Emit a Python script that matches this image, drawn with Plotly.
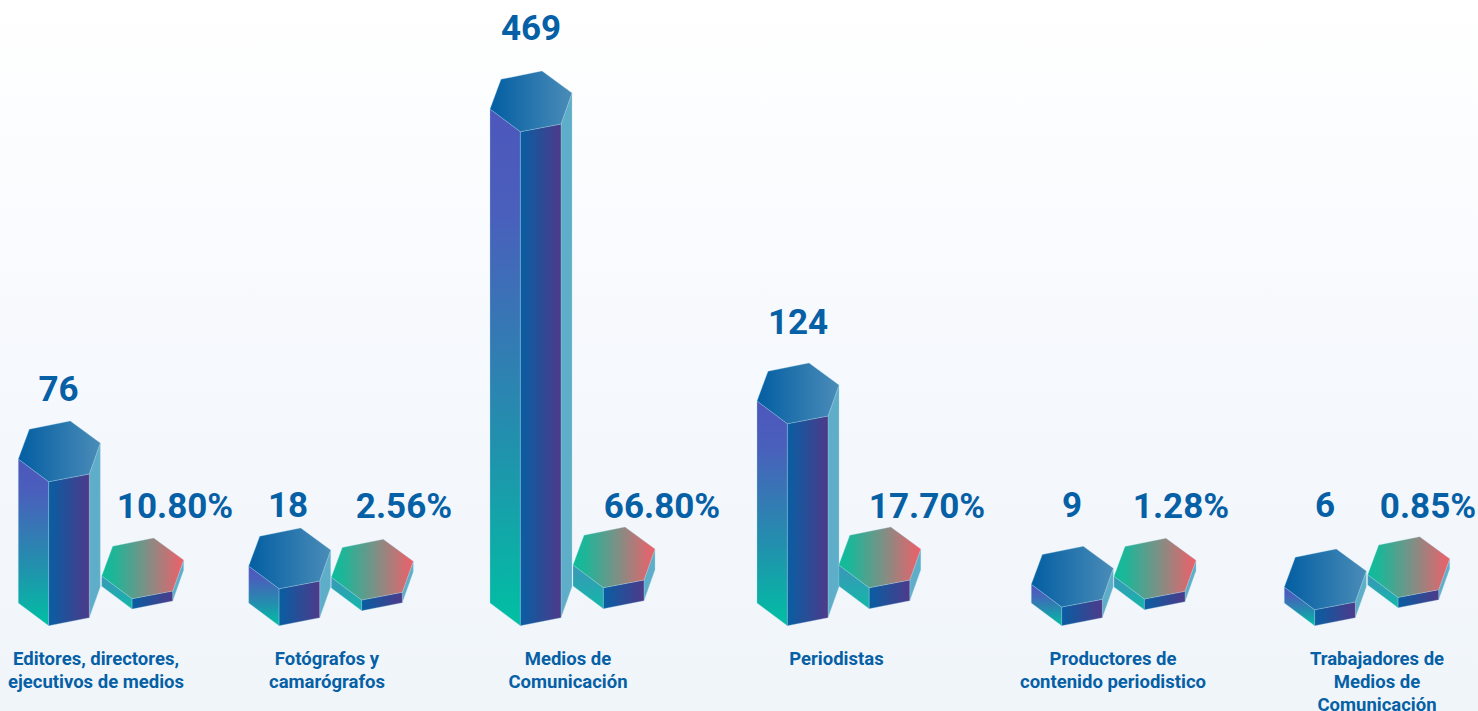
import plotly.graph_objects as go

# ---- data ----
categories = [
    ["Editores, directores,", "ejecutivos de medios"],
    ["Fotógrafos y", "camarógrafos"],
    ["Medios de", "Comunicación"],
    ["Periodistas"],
    ["Productores de", "contenido periodistico"],
    ["Trabajadores de", "Medios de", "Comunicación"],
]
counts = [76, 18, 469, 124, 9, 6]
percents = [10.80, 2.56, 66.80, 17.70, 1.28, 0.85]
# heights at which the infographic draws each prism (axis units = pixels)
count_heights = [144, 37, 494, 202, 18.7, 16]
percent_heights = [10.3, 10.7, 21, 21, 10.7, 10.3]

# ---- layout of the groups ----
W, H = 1478, 711
BASE = 625.7
count_left = [18.3, 248.7, 490, 757, 1031.3, 1284.3]
pct_left = [101.7, 331.3, 573, 838.8, 1114, 1367.7]
pct_base = [609, 610.7, 608.7, 608.7, 609.7, 607.7]
label_x = [96, 327, 568, 836.5, 1113, 1377]
count_x = [58.5, 288, 531, 798, 1072, 1325]
count_y = [392, 508.5, 31.5, 325, 508.5, 508.5]
pct_x = [175, 404, 662, 927, 1181, 1428]
PCT_Y = 509.5
LABEL_Y = 660
LINE_STEP = 23

HEX = [(0, 0), (11, -29.7), (52, -38), (82, -16), (71, 15), (30.4, 22.7)]

BLUE_TEXT = "#0660a5"
EDGE = "rgba(170,215,230,0.6)"

top_blue = [[0, "#035ea2"], [1, "#4a8cb8"]]
top_warm = [[0, "#0bbd9b"], [0.15, "#1fb598"], [0.55, "#7f8f85"], [1, "#f05f69"]]
front_cs = [[0, "#085ea2"], [1, "#4d3a8a"]]
side_tall = [[0, "#00c0a3"], [0.35, "#2191ad"], [0.8, "#4a5fbc"], [1, "#4d57bc"]]
side_flat = [[0, "#12b8a8"], [1, "#3b96b8"]]
RIGHT = "#5faec9"

fig = go.Figure()


def face(xs, ys, kind=None, cs=None, start=None, stop=None, solid=None, edge=True):
    kw = dict(
        x=list(xs) + [xs[0]], y=list(ys) + [ys[0]], mode="lines", fill="toself",
        line=dict(color=EDGE if edge else "rgba(0,0,0,0)", width=0.5),
        hoverinfo="skip", showlegend=False,
    )
    if solid:
        kw["fillcolor"] = solid
    else:
        kw["fillgradient"] = dict(type=kind, colorscale=cs, start=start, stop=stop)
    fig.add_trace(go.Scatter(**kw))


# page background
face([0, W, W, 0], [0, 0, H, H], "vertical",
     [[0, "#ffffff"], [0.5, "#f6f9fd"], [1, "#f0f5fa"]], 0, H, edge=False)


def prism(left, base, height, top_cs, side_cs):
    fy = base - height            # front vertex of the top face
    ly = fy - HEX[5][1]
    px = [left + a for a, _ in HEX]
    py = [ly + b for _, b in HEX]
    fx = px[5]
    rise_left = py[5] - py[0]
    rise_right = py[4] - py[3]
    # left side
    face([px[0], fx, fx, px[0]], [py[0], py[5], base, base - rise_left],
         "vertical", side_cs, base, py[0])
    # right side
    face([px[4], px[3], px[3], px[4]],
         [py[4], py[3], base - 8 - rise_right, base - 8], solid=RIGHT)
    # front
    face([fx, px[4], px[4], fx], [py[5], py[4], base - 8, base],
         "horizontal", front_cs, fx, px[4])
    # top
    face(px, py, "horizontal", top_cs, px[0], px[3])


for i in range(len(counts)):
    prism(count_left[i], BASE, count_heights[i], top_blue, side_tall)
    prism(pct_left[i], pct_base[i], percent_heights[i], top_warm, side_flat)

# value labels
fig.add_trace(go.Scatter(
    x=count_x, y=count_y, mode="text", text=[str(v) for v in counts],
    textposition="middle center", hoverinfo="skip", showlegend=False,
    textfont=dict(family="Roboto", size=35, color=BLUE_TEXT, weight=700),
))
fig.add_trace(go.Scatter(
    x=pct_x, y=[PCT_Y] * len(pct_x), mode="text",
    text=[f"{p:.2f}%" for p in percents],
    textposition="middle center", hoverinfo="skip", showlegend=False,
    textfont=dict(family="Roboto", size=35, color=BLUE_TEXT, weight=700),
))
# category labels, one text per line for the original line spacing
lx, ly, lt = [], [], []
for i, lines in enumerate(categories):
    for j, s in enumerate(lines):
        lx.append(label_x[i])
        ly.append(LABEL_Y + j * LINE_STEP)
        lt.append(s)
fig.add_trace(go.Scatter(
    x=lx, y=ly, mode="text", text=lt, textposition="middle center",
    hoverinfo="skip", showlegend=False, cliponaxis=False,
    textfont=dict(family="Roboto", size=18.5, color=BLUE_TEXT, weight=700),
))

fig.update_xaxes(range=[0, W], visible=False, fixedrange=True)
fig.update_yaxes(range=[H, 0], visible=False, fixedrange=True)
fig.update_layout(
    width=W, height=H, margin=dict(l=0, r=0, t=0, b=0),
    paper_bgcolor="#f8fbfe", plot_bgcolor="rgba(0,0,0,0)",
)
fig.write_html("out.html", config={"displayModeBar": False},
               post_script="document.body.style.margin='0';document.body.style.overflow='hidden';")
